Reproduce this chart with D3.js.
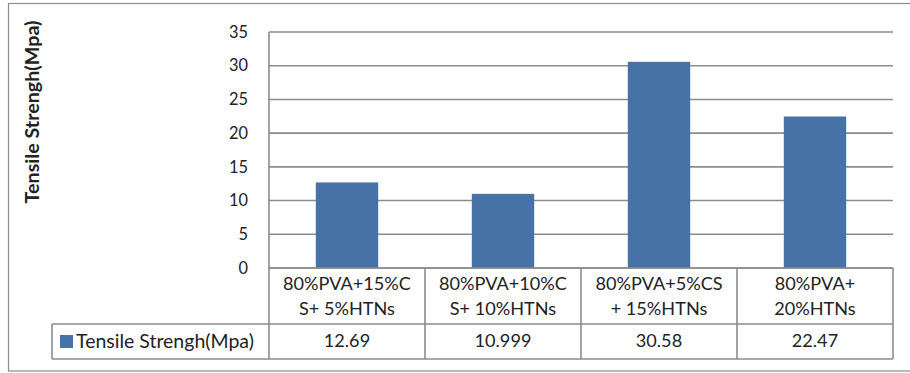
<!DOCTYPE html>
<html><head><meta charset="utf-8">
<script src="https://cdn.jsdelivr.net/npm/d3@7"></script>
<style>body{margin:0;background:#fff}svg{display:block}text{font-family:Lato,"Liberation Sans",Arial,sans-serif;fill:#222}</style>
</head><body><svg id="c" width="910" height="373"></svg>
<script>
const categories = [["80%PVA+15%C","S+ 5%HTNs"],["80%PVA+10%C","S+ 10%HTNs"],["80%PVA+5%CS","+ 15%HTNs"],["80%PVA+","20%HTNs"]];
const values = [12.69, 10.999, 30.58, 22.47];
const valueLabels = ["12.69","10.999","30.58","22.47"];
const yTicks = [0,5,10,15,20,25,30,35];
const seriesName = "Tensile Strengh(Mpa)";
const axisTitle = "Tensile Strengh(Mpa)";

const svg = d3.select("#c");
const L = 269, R = 893, T = 32, B = 268;
const row1B = 324, row2B = 359, legL = 52;
const gray = "#8c8c8c", blue = "#4672a8";

function fitSize(sample, target, weight){
  const t = svg.append("text").attr("font-size",20).attr("font-weight",weight||"normal").text(sample);
  const w = t.node().getComputedTextLength(); t.remove();
  return 20*target/w;
}
const fsLabel = fitSize("80%PVA+15%C",128);
const fsTick = fitSize("35",19);
const fsTitle = fitSize(axisTitle,183,"bold");
const fsLegend = Math.min(fitSize(seriesName,178), fsLabel*1.08);

svg.append("rect").attr("x",8.5).attr("y",3.5).attr("width",920).attr("height",367.5)
  .attr("fill","none").attr("stroke",gray).attr("stroke-width",1.2);

const x = d3.scaleBand().domain(d3.range(categories.length)).range([L,R]).paddingInner(0.6).paddingOuter(0.3);
const xc = d3.scaleBand().domain(d3.range(categories.length)).range([L,R]);
const y = d3.scaleLinear().domain([0,35]).range([B,T]);

svg.append("g").selectAll("line").data(yTicks).join("line")
  .attr("x1",L).attr("x2",R).attr("y1",d=>y(d)).attr("y2",d=>y(d))
  .attr("stroke",gray).attr("stroke-width",1.6);
svg.append("g").selectAll("text").data(yTicks).join("text")
  .attr("x",248).attr("y",d=>y(d)).attr("dy","0.35em").attr("text-anchor","end")
  .attr("font-size",fsTick).text(d=>d);

svg.append("g").selectAll("rect").data(values).join("rect")
  .attr("x",(d,i)=>x(i)).attr("width",x.bandwidth())
  .attr("y",d=>y(d)).attr("height",d=>y(0)-y(d)).attr("fill",blue);

const g = svg.append("g").attr("stroke",gray).attr("stroke-width",1.6).attr("fill","none");
g.append("line").attr("x1",L).attr("x2",L).attr("y1",T).attr("y2",row2B);
g.append("line").attr("x1",L).attr("x2",R).attr("y1",B).attr("y2",B);
g.append("line").attr("x1",legL).attr("x2",R).attr("y1",row1B).attr("y2",row1B);
g.append("line").attr("x1",legL).attr("x2",R).attr("y1",row2B).attr("y2",row2B);
g.append("line").attr("x1",legL).attr("x2",legL).attr("y1",row1B).attr("y2",row2B);
categories.forEach((c,i)=>{
  const xr = xc(i)+xc.bandwidth();
  g.append("line").attr("x1",xr).attr("x2",xr).attr("y1",B).attr("y2",row2B);
});

const cl = svg.append("g");
categories.forEach((c,i)=>{
  const cx = xc(i)+xc.bandwidth()/2;
  c.forEach((t,j)=>{
    cl.append("text").attr("x",cx).attr("y",284+j*25).attr("dy","0.35em")
      .attr("text-anchor","middle").attr("font-size",fsLabel).text(t);
  });
  cl.append("text").attr("x",cx).attr("y",341).attr("dy","0.35em")
    .attr("text-anchor","middle").attr("font-size",fsLabel).text(valueLabels[i]);
});

svg.append("rect").attr("x",60).attr("y",335).attr("width",13).attr("height",13).attr("fill",blue);
svg.append("text").attr("x",76).attr("y",341).attr("dy","0.35em").attr("font-size",fsLegend).text(seriesName);

svg.append("text").attr("transform","translate(39,112) rotate(-90)").attr("text-anchor","middle")
  .attr("font-size",fsTitle).attr("font-weight","bold").text(axisTitle);
</script></body></html>
